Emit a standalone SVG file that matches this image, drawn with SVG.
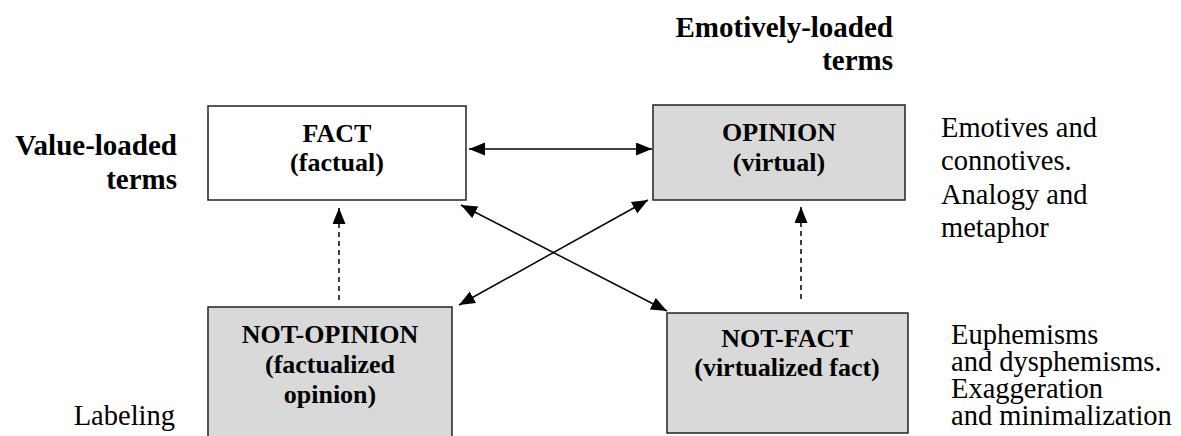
<svg xmlns="http://www.w3.org/2000/svg" width="1181" height="436" viewBox="0 0 1181 436">
<style>
  .box { stroke: #222; stroke-width: 1.5; }
  .white { fill: #ffffff; }
  .grey { fill: #d9d9d9; }
  text { font-family: "Liberation Serif", "Times New Roman", Times, serif; fill: #000; }
  .bt { font-weight: bold; font-size: 26px; text-anchor: middle; }
  .lbl { font-weight: bold; font-size: 29px; text-anchor: end; }
  .rt { font-size: 28.5px; }
  .lo { font-size: 28.5px; }
  .ln { stroke: #000; stroke-width: 1.5; fill: none; }
  .dash { stroke: #000; stroke-width: 1.5; fill: none; stroke-dasharray: 5 4; }
</style>
<defs>
  <marker id="ah" markerUnits="userSpaceOnUse" markerWidth="17" markerHeight="14" refX="16" refY="6.5" orient="auto-start-reverse" viewBox="0 0 17 14">
    <path d="M0,0 L16,6.5 L0,13 z" fill="#000"/>
  </marker>
</defs>
<rect width="1181" height="436" fill="#fff"/>

<g id="label-emotively">
  <text class="lbl" x="893" y="37" font-family="Liberation Serif, serif">Emotively-loaded</text>
  <text class="lbl" x="893" y="70" font-family="Liberation Serif, serif">terms</text>
</g>
<g id="label-value">
  <text class="lbl" x="177" y="155" font-family="Liberation Serif, serif">Value-loaded</text>
  <text class="lbl" x="177" y="189" font-family="Liberation Serif, serif">terms</text>
</g>

<g id="fact">
  <rect class="box white" x="208" y="106" width="258" height="94"/>
  <text class="bt" x="337" y="142" font-family="Liberation Serif, serif">FACT</text>
  <text class="bt" x="337" y="171" font-family="Liberation Serif, serif">(factual)</text>
</g>
<g id="opinion">
  <rect class="box grey" x="653" y="105" width="252" height="95"/>
  <text class="bt" x="779" y="141" font-family="Liberation Serif, serif">OPINION</text>
  <text class="bt" x="779" y="171" font-family="Liberation Serif, serif">(virtual)</text>
</g>
<g id="not-opinion">
  <rect class="box grey" x="208" y="307" width="244" height="140"/>
  <text class="bt" x="330" y="343" font-family="Liberation Serif, serif">NOT-OPINION</text>
  <text class="bt" x="330" y="373" font-family="Liberation Serif, serif">(factualized</text>
  <text class="bt" x="330" y="403" font-family="Liberation Serif, serif">opinion)</text>
</g>
<g id="not-fact">
  <rect class="box grey" x="667" y="313" width="241" height="120"/>
  <text class="bt" x="787" y="347" font-family="Liberation Serif, serif">NOT-FACT</text>
  <text class="bt" x="787" y="376" font-family="Liberation Serif, serif">(virtualized fact)</text>
</g>

<g id="notes-opinion">
  <text class="rt" x="941" y="137" font-family="Liberation Serif, serif">Emotives and</text>
  <text class="rt" x="941" y="170" font-family="Liberation Serif, serif">connotives.</text>
  <text class="rt" x="941" y="204" font-family="Liberation Serif, serif">Analogy and</text>
  <text class="rt" x="941" y="237" font-family="Liberation Serif, serif">metaphor</text>
</g>
<g id="notes-notfact">
  <text class="lo" x="951" y="344" font-family="Liberation Serif, serif">Euphemisms</text>
  <text class="lo" x="951" y="371" font-family="Liberation Serif, serif">and dysphemisms.</text>
  <text class="lo" x="951" y="398" font-family="Liberation Serif, serif">Exaggeration</text>
  <text class="lo" x="951" y="425" font-family="Liberation Serif, serif">and minimalization</text>
</g>
<g id="note-labeling">
  <text class="rt" x="175" y="425" text-anchor="end" font-family="Liberation Serif, serif">Labeling</text>
</g>

<g id="connectors">
  <line class="ln" x1="469" y1="149" x2="652" y2="149" marker-start="url(#ah)" marker-end="url(#ah)"/>
  <line class="ln" x1="461" y1="205" x2="667" y2="311" marker-start="url(#ah)" marker-end="url(#ah)"/>
  <line class="ln" x1="648" y1="200" x2="459" y2="305" marker-start="url(#ah)" marker-end="url(#ah)"/>
  <line class="dash" x1="339" y1="300" x2="339" y2="208" marker-end="url(#ah)"/>
  <line class="dash" x1="801" y1="299" x2="801" y2="207" marker-end="url(#ah)"/>
</g>
</svg>
